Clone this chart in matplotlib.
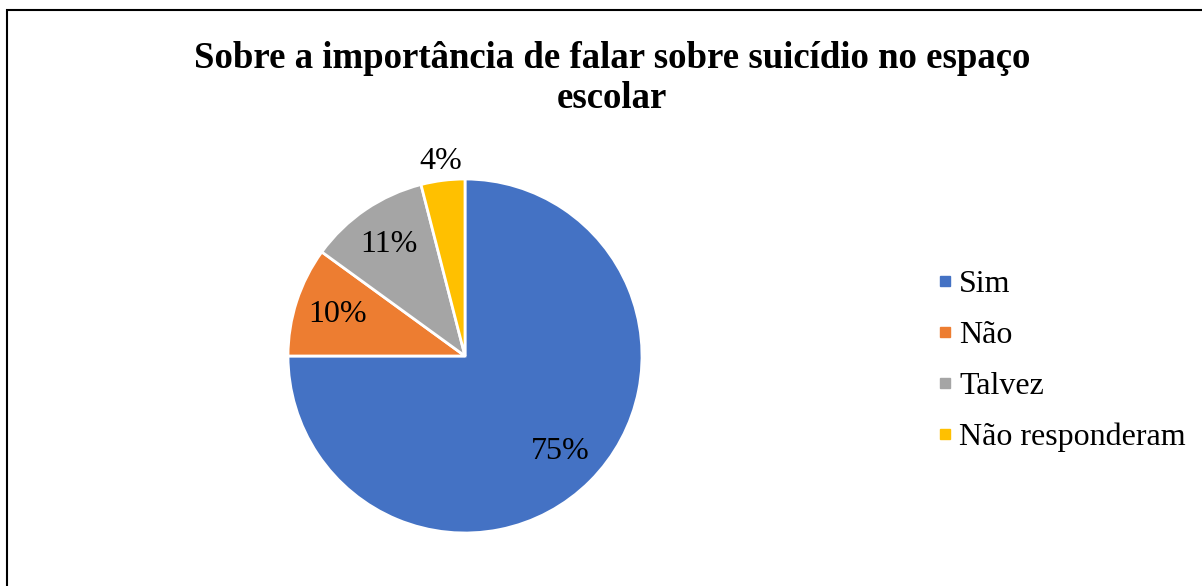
import matplotlib.pyplot as plt
import numpy as np
from matplotlib.patches import Rectangle
from matplotlib.lines import Line2D

categories = ["Sim", "Não", "Talvez", "Não responderam"]
values = [75, 10, 11, 4]
pct_labels = ["75%", "10%", "11%", "4%"]
colors = ["#4472C4", "#ED7D31", "#A5A5A5", "#FFC000"]

plt.rcParams['font.family'] = ['Liberation Serif', 'DejaVu Serif']

W, H = 1202, 586
fig = plt.figure(figsize=(W/100, H/100), dpi=100)

# outer frame
fig.patches.append(Rectangle((7/W, -0.1), 1.2, (586-9.5)/H + 0.1, transform=fig.transFigure,
                             fill=False, edgecolor='black', linewidth=1.5))

cx, cy, r = 465, 356, 177
ax = fig.add_axes([(cx-r)/W, (H-cy-r)/H, 2*r/W, 2*r/H])
wedges, _ = ax.pie(values, colors=colors, startangle=90, counterclock=False,
                   wedgeprops=dict(edgecolor='white', linewidth=2))
ax.set_xlim(-1, 1); ax.set_ylim(-1, 1); ax.set_aspect('equal'); ax.axis('off')

dists = [0.76, 0.76, 0.76, 1.11]
for w, lab, d in zip(wedges, pct_labels, dists):
    ang = np.deg2rad((w.theta1 + w.theta2) / 2)
    ax.text(d*np.cos(ang), d*np.sin(ang), lab, ha='center', va='center', fontsize=23, clip_on=False)

fig.text(612/W, 1-58/H, "Sobre a importância de falar sobre suicídio no espaço", ha='center', va='center',
         fontsize=26.5, fontweight='bold')
fig.text(612/W, 1-99/H, "escolar", ha='center', va='center', fontsize=26.5, fontweight='bold')

handles = [Line2D([], [], marker='s', linestyle='none', markersize=7.5, markerfacecolor=c,
                  markeredgecolor=c) for c in colors]
fig.legend(handles, categories, loc='center left', bbox_to_anchor=(900/W, 1-361/H),
           frameon=False, fontsize=23, handletextpad=-0.05, labelspacing=0.68, handlelength=1.0)

fig.savefig("out.png", dpi=100)
